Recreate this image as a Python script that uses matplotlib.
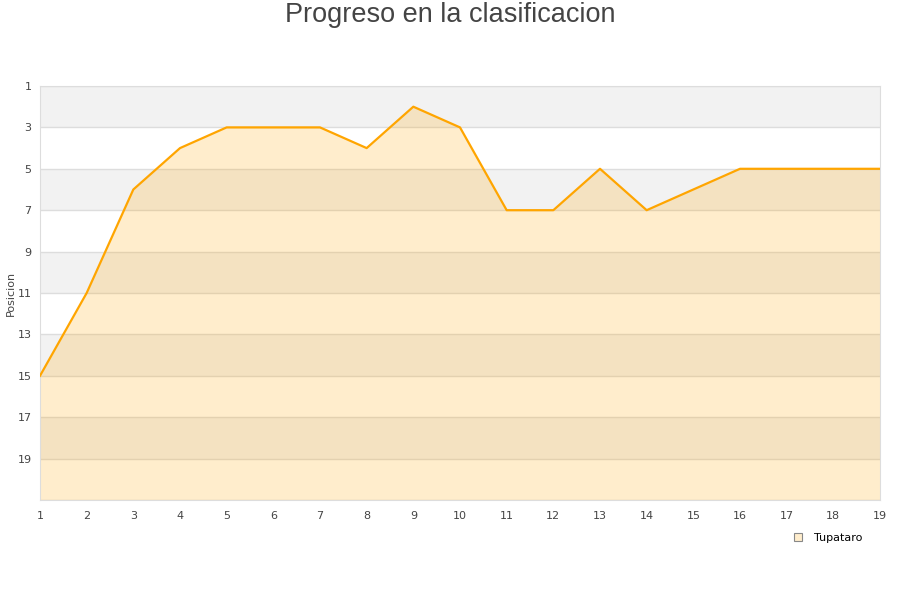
import matplotlib.pyplot as plt
import numpy as np

# datos
jornadas = list(range(1, 20))
posicion = [15, 11, 6, 4, 3, 3, 3, 4, 2, 3, 7, 7, 5, 7, 6, 5, 5, 5, 5]
equipo = 'Tupataro'
y_ticks = [1, 3, 5, 7, 9, 11, 13, 15, 17, 19]

fig = plt.figure(figsize=(9, 6), dpi=100)
ax = fig.add_axes([40/900, 100/600, 840/900, 414/600])

# bandas alternas
for i, y0 in enumerate(range(1, 21, 2)):
    if i % 2 == 0:
        ax.axhspan(y0, y0 + 2, color='#f2f2f2', zorder=0, lw=0)
for y in range(1, 22, 2):
    ax.axhline(y, color='#dddddd', lw=1, zorder=1)

ax.fill_between(jornadas, posicion, 21, color='#ffa500', alpha=0.2, lw=0, zorder=2)
ax.plot(jornadas, posicion, color='#ffa500', lw=1.6, zorder=3)

ax.set_xlim(1, 19)
ax.set_ylim(21, 1)
ax.set_xticks(jornadas)
ax.set_yticks(y_ticks)
ax.tick_params(length=0, labelsize=8, colors='#444444')
ax.tick_params(axis='y', pad=6)
ax.tick_params(axis='x', pad=8)
for s in ax.spines.values():
    s.set_color('#dddddd')
fig.text(11/900, 1 - 293/600, 'Posicion', fontsize=8, color='#444444',
         rotation=90, ha='center', va='center')

fig.text(0.5, 1 - 15/600, 'Progreso en la clasificacion', fontsize=19.5, color='#444444',
         family=['Liberation Sans', 'DejaVu Sans'], ha='center', va='center')

h = plt.Line2D([], [], marker='s', ls='', markersize=6, markerfacecolor='#ffedcc',
               markeredgecolor='#888888', markeredgewidth=0.8)
fig.legend([h], [equipo], loc='center left', bbox_to_anchor=(777/900, 1 - 538/600),
           frameon=False, fontsize=8, handletextpad=0.4)

fig.savefig('out.png')
